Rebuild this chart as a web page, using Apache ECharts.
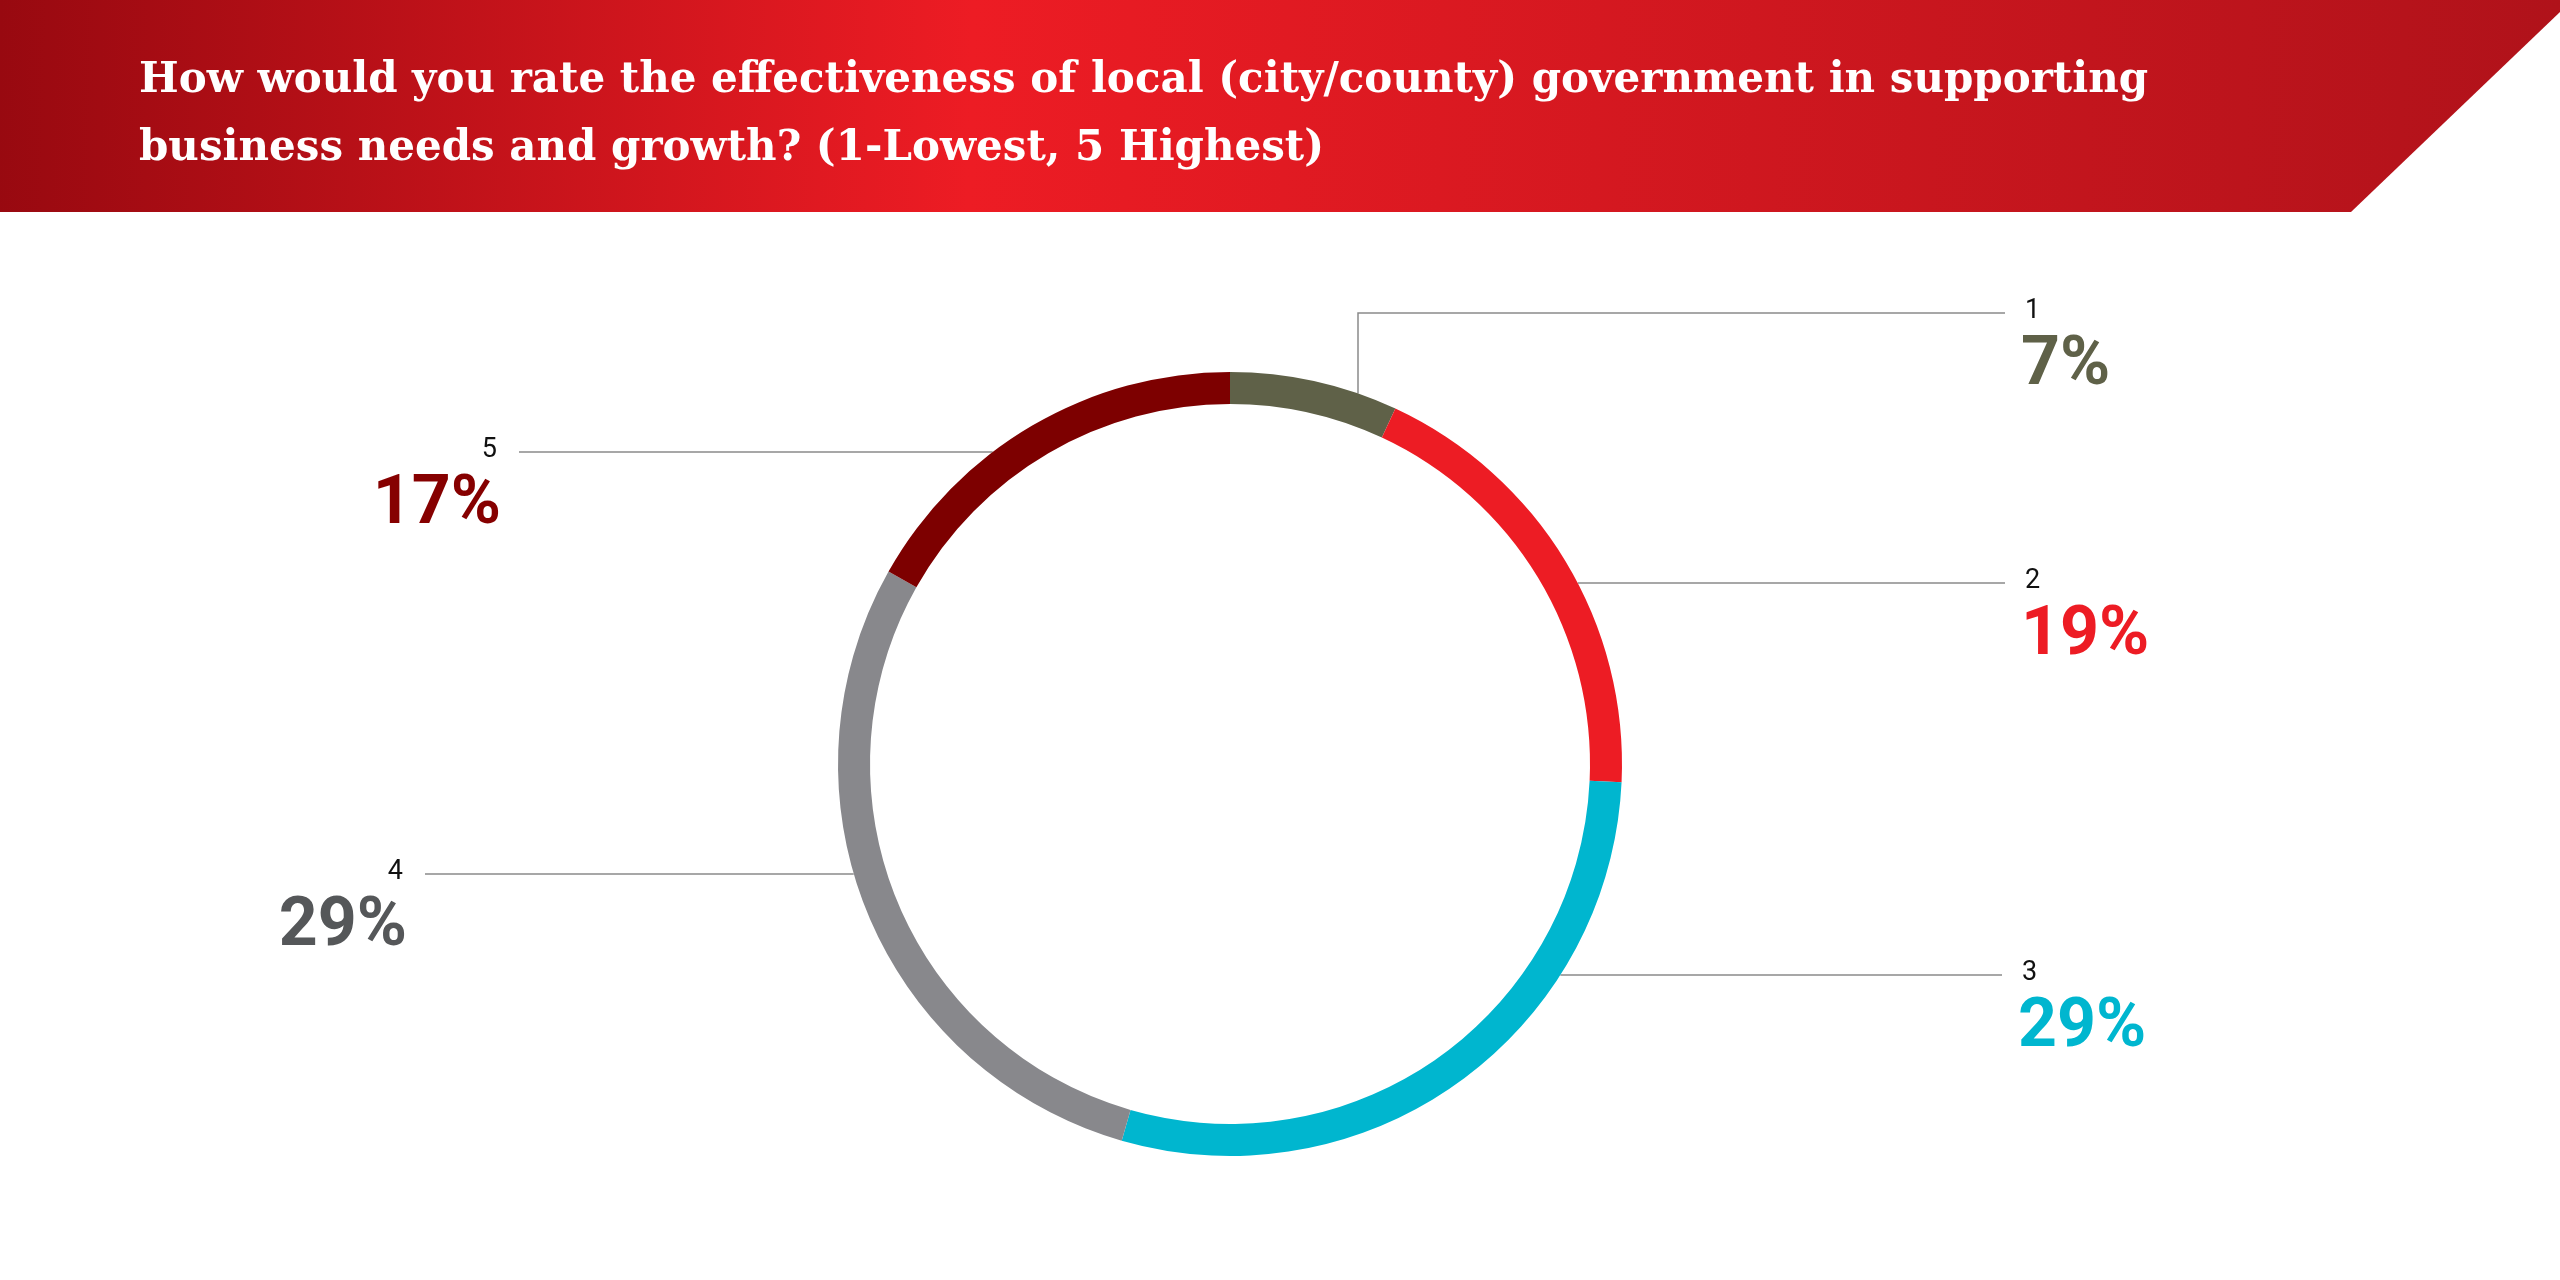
<!DOCTYPE html>
<html>
<head>
<meta charset="utf-8">
<script src="https://cdn.jsdelivr.net/npm/echarts@6/dist/echarts.min.js"></script>
<style>
  html, body { margin: 0; padding: 0; background: #fff; }
  #main { width: 2560px; height: 1280px; }
</style>
</head>
<body>
<div id="main"></div>
<script>
const categories = ['1', '2', '3', '4', '5'];
const values = [7, 19, 29, 29, 17];
const sliceColors = ['#5f6148', '#ed1c24', '#00b6cf', '#88888c', '#7d0000'];
const textColors = ['#5f6148', '#ed1c24', '#00b6cf', '#555759', '#860000'];

// layout of the leader lines (pixels)
const cx = 1230, cy = 764, rOut = 392, rIn = 360;
const lineY = [313, 583, 975, 874, 452];
const lineEndX = [2005, 2005, 2002, 425, 519];

const chart = echarts.init(document.getElementById('main'));

chart.setOption({
  animation: false,
  title: {
    text: 'How would you rate the effectiveness of local (city/county) government in supporting\nbusiness needs and growth? (1-Lowest, 5 Highest)',
    left: 134,
    top: 42,
    textStyle: {
      color: '#fff',
      fontFamily: 'DejaVu Serif',
      fontWeight: 'bold',
      fontSize: 42,
      lineHeight: 68
    }
  },
  graphic: [{
    type: 'polygon',
    z: -1,
    shape: { points: [[0, 0], [2560, 0], [2560, 12], [2351, 212], [0, 212]] },
    style: {
      fill: new echarts.graphic.LinearGradient(0, 0, 1, 0.3, [
        { offset: 0, color: '#980910' },
        { offset: 0.38, color: '#ed1c24' },
        { offset: 1, color: '#b0121a' }
      ])
    }
  }],
  series: [{
    type: 'pie',
    center: [cx, cy],
    radius: [rIn, rOut],
    startAngle: 90,
    clockwise: true,
    silent: true,
    data: categories.map((c, i) => ({
      name: c,
      value: values[i],
      itemStyle: { color: sliceColors[i] },
      label: { rich: { pct: { color: textColors[i] } } }
    })),
    label: {
      show: true,
      formatter: p => '{num|' + p.name + '}\n{pct|' + p.value + '%}',
      rich: {
        num: { fontFamily: 'Roboto', fontSize: 27, color: '#111', lineHeight: 40, padding: [0, 4, 0, 4] },
        pct: { fontFamily: 'Roboto', fontWeight: 'bold', fontSize: 68, lineHeight: 72 }
      }
    },
    labelLine: { show: true, lineStyle: { color: '#8a8a8a', width: 1.5 } },
    labelLayout: function (params) {
      const i = params.dataIndex;
      const y = lineY[i];
      const right = lineEndX[i] > cx;
      const endX = lineEndX[i];
      let pts;
      if (i === 0) {
        const sx = params.labelLinePoints ? params.labelLinePoints[0] : [1358, 380];
        pts = [sx, [1358, y], [endX, y]];
        pts[0] = [1358, cy - Math.sqrt(rOut * rOut - (1358 - cx) * (1358 - cx))];
      } else {
        const dx = Math.sqrt(Math.max(0, rOut * rOut - (y - cy) * (y - cy)));
        const sx = right ? cx + dx : cx - dx;
        pts = [[sx, y], [endX, y], [endX, y]];
      }
      return {
        x: right ? endX + 16 : endX - 18,
        y: y - 22,
        align: right ? 'left' : 'right',
        verticalAlign: 'top',
        labelLinePoints: pts
      };
    }
  }]
});
</script>
</body>
</html>
